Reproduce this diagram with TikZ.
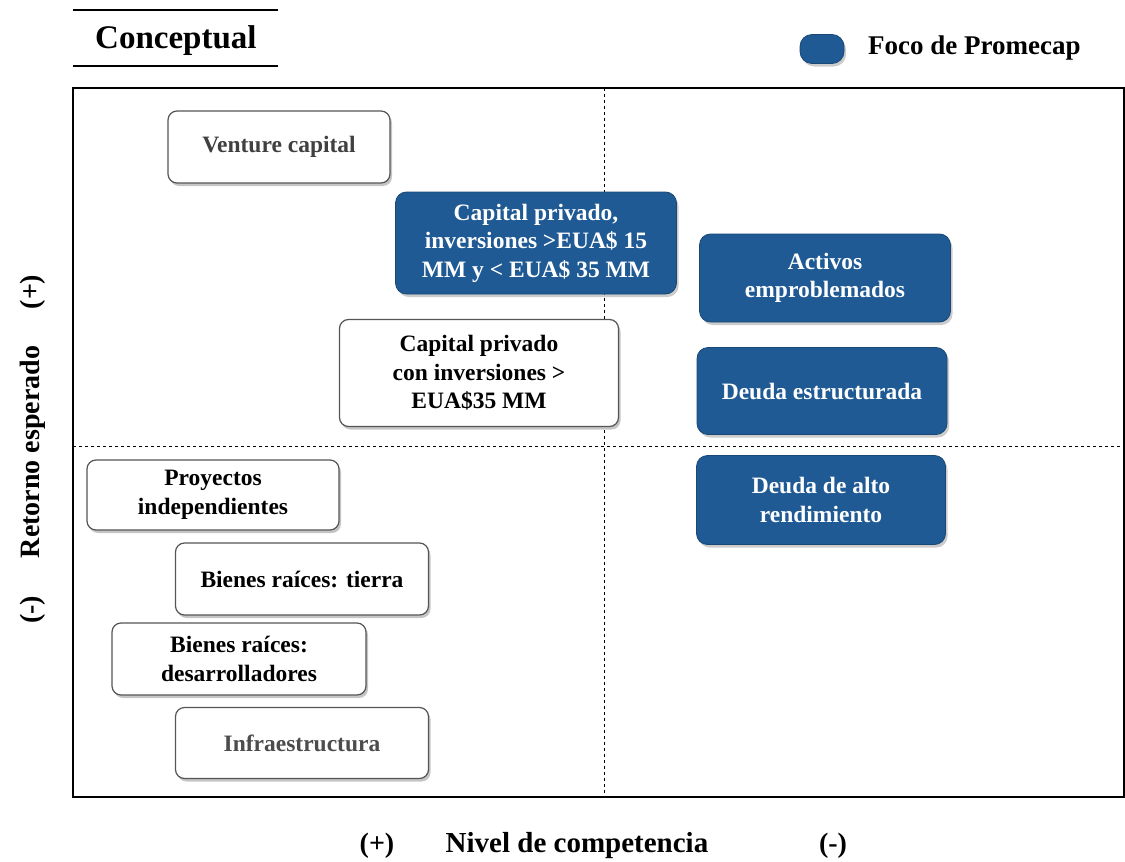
\documentclass[tikz,border=0pt]{standalone}
\usepackage{fontspec}
\setmainfont{Liberation Serif}
\usetikzlibrary{shadows}
\definecolor{promblue}{HTML}{1F5A94}
\definecolor{boxedge}{HTML}{555555}
\begin{document}
\begin{tikzpicture}[x=1pt,y=-1pt,
  wbox/.style={draw=boxedge,line width=1.2pt,fill=white,rounded corners=9pt,
    drop shadow={shadow xshift=2pt,shadow yshift=-3pt,fill=black!45},
    align=center,font=\bfseries\fontsize{23.5}{28.5}\selectfont,inner sep=2pt},
  bbox/.style={draw=promblue!80!black,line width=0.8pt,fill=promblue,rounded corners=11pt,
    drop shadow={shadow xshift=2pt,shadow yshift=-3pt,fill=black!40},
    align=center,text=white,font=\bfseries\fontsize{23.5}{28.5}\selectfont,inner sep=2pt},
  lbl/.style={font=\bfseries\fontsize{28}{32}\selectfont}]
\useasboundingbox (0,0) rectangle (1125,862);
% title
\draw[line width=1.5pt] (73,10) -- (278,10);
\draw[line width=1.5pt] (73,66) -- (278,66);
\node[font=\bfseries\fontsize{33}{38}\selectfont,anchor=west,inner sep=0pt] (title) at (95,41) {Conceptual};
% legend
\node[bbox,minimum width=44pt,minimum height=29pt,rounded corners=12pt] (leg) at (822,49) {};
\node[font=\bfseries\fontsize{27}{32}\selectfont,anchor=west,inner sep=0pt] (legt) at (868,48) {Foco de Promecap};
% frame
\draw[line width=1.3pt] (73,88) rectangle (1124,797);
\draw[dashed,line width=0.5pt] (604,88) -- (604,797);
\draw[dashed,line width=0.5pt] (73,446) -- (1124,446);
% boxes
\node[wbox,minimum width=222pt,minimum height=72pt,text=black!75] (vc) at (279,147) {Venture capital};
\node[bbox,minimum width=281pt,minimum height=102pt] (cp1) at (536,243) {Capital privado,\\inversiones >EUA\$ 15\\MM y < EUA\$ 35 MM};
\node[bbox,minimum width=251pt,minimum height=88pt] (ae) at (825,278) {Activos\\emproblemados};
\node[wbox,minimum width=279pt,minimum height=107pt] (cp2) at (479,373) {Capital privado\\con inversiones >\\EUA\$35 MM};
\node[bbox,minimum width=250pt,minimum height=87pt] (de) at (822,391) {Deuda estructurada};
\node[bbox,minimum width=249pt,minimum height=89pt] (da) at (821,500) {Deuda de alto\\rendimiento};
\node[wbox,minimum width=252pt,minimum height=70pt] (pi) at (213,495) {Proyectos\\independientes};
\node[wbox,minimum width=253pt,minimum height=72pt] (bt) at (302,579) {Bienes raíces: tierra};
\node[wbox,minimum width=254pt,minimum height=72pt] (bd) at (239,659) {Bienes raíces:\\desarrolladores};
\node[wbox,minimum width=253pt,minimum height=71pt,text=black!70] (inf) at (302,743) {Infraestructura};
% axis labels
\node[lbl,rotate=90] (yp) at (33,292) {(+)};
\node[lbl,rotate=90] (yl) at (33,452) {Retorno esperado};
\node[lbl,rotate=90] (ym) at (33,610) {(-)};
\node[lbl] (xp) at (377,846) {(+)};
\node[lbl,font=\bfseries\fontsize{29}{34}\selectfont] (xl) at (577,846) {Nivel de competencia};
\node[lbl] (xm) at (833,846) {(-)};
\end{tikzpicture}
\end{document}
